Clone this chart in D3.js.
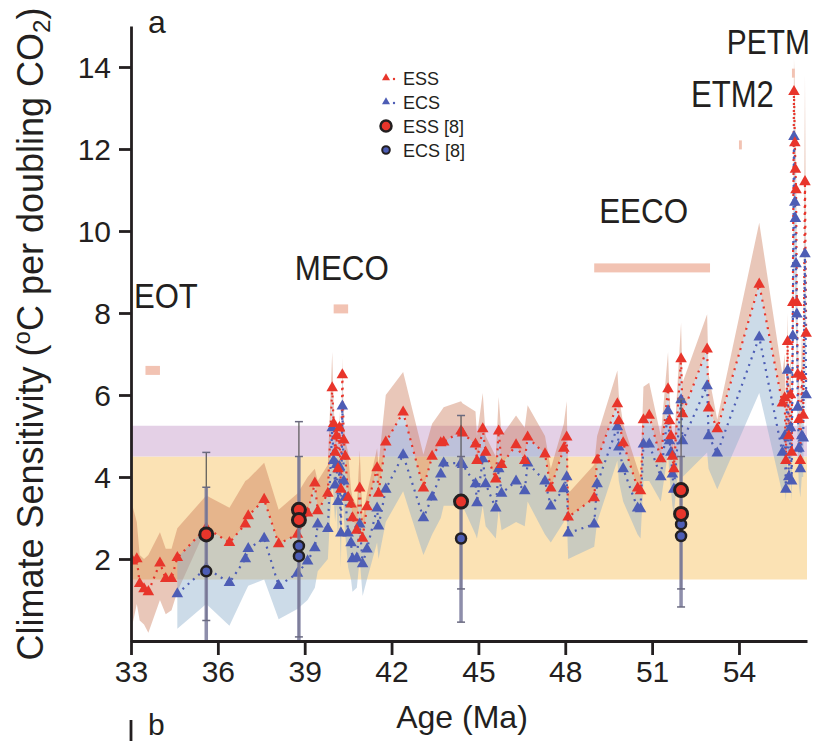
<!DOCTYPE html>
<html>
<head>
<meta charset="utf-8">
<script src="https://cdn.jsdelivr.net/npm/d3@7"></script>
<style>
body { margin: 0; background: #fff; }
text { font-family: "Liberation Sans", Arial, sans-serif; fill: #231f20; }
</style>
</head>
<body>
<script>
// ages (Ma) of each estimate, shared by ESS and ECS
var ages  = [33.05,33.2,33.3,33.45,33.6,34.0,34.2,34.4,34.6,35.6,36.4,36.95,37.05,37.6,38.1,38.75,39.1,39.35,39.45,39.8,
             39.95,40.0,40.05,40.1,40.15,40.2,40.25,40.3,40.35,40.4,40.5,40.6,40.65,40.8,40.9,41.0,41.15,41.5,41.55,41.8,
             42.4,43.1,43.4,43.7,43.8,44.4,44.45,44.9,44.95,45.15,45.25,45.6,45.7,45.8,46.3,46.6,46.7,47.3,47.5,47.95,
             48.05,48.1,49.0,49.1,49.8,49.85,50.0,50.5,50.6,50.7,50.9,51.3,51.55,51.6,51.65,51.7,51.75,52.0,52.05,52.9,
             52.95,53.25,54.7,55.5,55.58,55.62,55.68,55.72,55.78,55.82,55.86,55.9,55.93,55.95,55.97,56.0,56.03,56.07,56.12,56.17,
             56.22,56.28,56.32];
var ess   = [1.95,2.0,1.4,1.27,1.2,1.9,1.52,1.52,2.03,2.76,2.4,2.85,3.05,3.45,2.37,2.6,3.12,3.85,3.17,3.6,
             6.17,5.3,4.6,5.0,4.2,5.2,3.7,6.49,4.9,4.5,3.5,3.34,3.0,2.7,3.73,2.5,3.27,4.22,3.6,4.85,
             5.58,3.73,4.5,4.83,4.85,5.12,5.07,4.8,4.4,5.17,4.6,3.95,5.12,4.3,4.78,4.4,4.97,4.56,3.73,4.7,
             4.97,3.02,3.49,4.41,5.78,5.37,4.83,3.73,3.66,5.39,5.5,4.44,6.15,5.37,5.0,4.5,4.2,6.88,5.54,7.12,
             5.68,5.17,8.7,5.8,5.93,4.4,7.3,5.0,6.0,4.6,8.25,13.4,12.15,11.5,11.0,8.25,6.5,5.4,4.4,6.46,
             5.5,11.2,7.5];
var ecs   = [null,null,null,null,null,null,null,null,1.15,1.78,1.42,2.0,2.25,2.5,1.35,1.65,1.95,2.27,2.85,2.74,
             5.2,4.4,3.8,4.3,3.4,4.25,2.63,5.73,3.9,3.5,2.63,2.39,2.0,2.02,2.85,1.88,2.24,3.24,2.8,3.7,
             4.54,3.0,3.51,4.07,4.34,4.34,4.3,3.83,3.37,4.44,3.83,3.24,4.2,3.6,3.9,3.66,4.34,3.9,3.29,3.71,
             4.0,2.63,2.85,3.83,5.22,4.73,4.2,3.24,3.22,4.8,4.8,4.0,5.61,4.88,4.6,4.07,3.7,5.88,4.88,6.22,
             5.0,4.58,7.41,4.6,5.0,3.7,6.6,4.0,5.2,3.9,7.44,12.3,10.7,10.3,9.2,7.97,5.7,4.7,4.2,5.0,
             4.95,9.44,6.0];
// upper edge of the ESS uncertainty band
var essHi = [3.3,2.9,2.1,2.0,2.1,2.65,2.25,2.25,2.75,3.55,3.25,3.9,3.95,4.35,3.2,3.6,4.0,4.2,3.9,4.3,
             7.05,5.8,5.0,5.4,4.6,5.6,4.1,6.9,5.3,4.9,4.6,3.7,3.5,3.3,4.65,3.0,3.6,4.7,4.3,6.0,
             6.56,4.55,5.3,5.6,5.7,5.85,5.8,5.6,5.0,6.05,5.0,4.5,5.95,5.0,5.5,5.2,5.75,5.0,4.2,5.3,
             5.85,3.6,4.3,5.0,6.6,6.0,5.3,4.2,4.0,6.2,6.3,5.0,7.05,6.0,5.5,5.0,4.7,7.76,6.3,7.97,
             6.5,5.4,10.2,6.5,7.0,5.5,8.0,6.0,7.0,5.5,9.0,14.2,13.5,12.5,12.0,9.5,7.5,6.5,5.5,7.5,
             7.0,13.8,9.0];
// lower edge of the ESS band where no ECS band sits under it
var essLo = [0.4,0.9,0.5,0.4,0.2,1.0,0.65,0.75,1.2];
// lower edge of the ECS uncertainty band
var ecsLo = [null,null,null,null,null,null,null,null,0.3,0.9,0.37,1.2,1.35,1.5,0.53,0.78,1.0,1.3,1.7,2.0,
             4.0,3.5,2.9,3.3,2.5,3.2,1.8,4.5,3.0,2.6,1.8,1.5,1.2,1.3,2.0,1.1,1.5,2.4,2.0,2.9,
             3.65,2.1,2.6,3.0,3.3,3.3,3.3,2.6,2.5,3.3,2.8,2.5,3.2,2.7,2.9,2.8,3.4,2.6,2.4,2.9,
             3.1,2.0,2.3,2.9,4.4,3.9,3.4,2.6,2.5,3.9,3.9,3.4,4.6,4.0,3.7,3.3,3.1,4.9,4.0,4.6,
             4.2,3.7,6.05,3.6,3.8,3.4,4.5,3.6,4.0,3.4,5.5,9.0,8.5,8.0,7.5,6.0,4.5,3.8,3.5,4.0,
             4.0,7.5,5.0];

// reference estimates [8]
var refAge = [35.6, 38.8, 38.8, 44.4, 52.0, 52.0];
var refEss = [2.6, 3.2, 2.95, 3.4, 3.68, 3.1];
var refEcs = [1.7, 2.32, 2.07, 2.5, 2.85, 2.56];
var barAge = [35.6, 38.8, 44.4, 52.0];
var barHi  = [4.6, 5.35, 5.5, 5.9];
var barLo  = [0.5, 0.1, 1.27, 1.27];
var barHi2 = [3.75, 4.5, 4.5, 4.5];
var barLo2 = [-0.5, -0.5, 0.46, 0.83];

// climate events
var evNames = ["EOT", "MECO", "EECO", "ETM2", "PETM"];
var evStart = [33.5, 40.0, 49.0, 54.0, 55.83];
var evEnd   = [34.0, 40.5, 53.0, 54.1, 55.93];
var evLevel = [6.6, 8.1, 9.1, 12.1, 13.85];

var xTicks = [33, 36, 39, 42, 45, 48, 51, 54];
var yTicks = [2, 4, 6, 8, 10, 12, 14];
var orangeRange = [1.5, 4.5];
var purpleRange = [4.5, 5.25];

// label placement (age, value, text width)
var evLabelPos = [[33.1, 8.12, 64], [38.66, 8.8, 94], [49.17, 10.2, 89], [52.34, 13.02, 83], [53.58, 14.32, 83]];

var width = 817, height = 741;
var redC = "#e8352b", blueC = "#4d5db5", ink = "#231f20";

var svg = d3.select("body").append("svg")
  .attr("width", width)
  .attr("height", height);

var x = d3.scaleLinear().domain([33, 56.35]).range([131, 807]);
var y = d3.scaleLinear().domain([0, 15]).range([641, 26]);

svg.append("clipPath").attr("id", "plot")
  .append("rect").attr("x", 131).attr("y", 0).attr("width", 690).attr("height", 641);

var plot = svg.append("g").attr("clip-path", "url(#plot)");

//background ranges
plot.append("rect")
  .attr("x", x(33)).attr("width", x(56.35) - x(33))
  .attr("y", y(orangeRange[1])).attr("height", y(orangeRange[0]) - y(orangeRange[1]))
  .attr("fill", "#fbe2b4");
plot.append("rect")
  .attr("x", x(33)).attr("width", x(56.35) - x(33))
  .attr("y", y(purpleRange[1])).attr("height", y(purpleRange[0]) - y(purpleRange[1]))
  .attr("fill", "#e4d0e6");

var idx = d3.range(ages.length);

//ESS band
var essArea = d3.area()
  .x(function(i) { return x(ages[i]); })
  .y0(function(i) { return y(essLo[i] != null ? essLo[i] : ess[i]); })
  .y1(function(i) { return y(essHi[i]); });
plot.append("path").attr("d", essArea(idx))
  .attr("fill", "#c8724f").attr("fill-opacity", 0.4);

//ECS band, from ESS line down
var ecsArea = d3.area()
  .defined(function(i) { return ecs[i] != null; })
  .x(function(i) { return x(ages[i]); })
  .y0(function(i) { return y(ecsLo[i]); })
  .y1(function(i) { return y(ess[i]); });
plot.append("path").attr("d", ecsArea(idx))
  .attr("fill", "#8fb0cc").attr("fill-opacity", 0.45);

//dotted connecting lines
var essLine = d3.line()
  .x(function(i) { return x(ages[i]); })
  .y(function(i) { return y(ess[i]); });
var ecsLine = d3.line()
  .defined(function(i) { return ecs[i] != null; })
  .x(function(i) { return x(ages[i]); })
  .y(function(i) { return y(ecs[i]); });

plot.append("path").attr("d", essLine(idx))
  .attr("fill", "none").attr("stroke", redC)
  .attr("stroke-width", 2.2).attr("stroke-dasharray", "2,5");
plot.append("path").attr("d", ecsLine(idx))
  .attr("fill", "none").attr("stroke", blueC)
  .attr("stroke-width", 2.2).attr("stroke-dasharray", "2,5");

var tri = d3.symbol().type(d3.symbolTriangle).size(58);

plot.selectAll(".ecsTri")
  .data(idx.filter(function(i) { return ecs[i] != null; }))
  .enter().append("path")
  .attr("class", "ecsTri")
  .attr("d", tri)
  .attr("transform", function(i) { return "translate(" + x(ages[i]) + "," + y(ecs[i]) + ")"; })
  .attr("fill", blueC);

plot.selectAll(".essTri")
  .data(idx)
  .enter().append("path")
  .attr("class", "essTri")
  .attr("d", tri)
  .attr("transform", function(i) { return "translate(" + x(ages[i]) + "," + y(ess[i]) + ")"; })
  .attr("fill", redC);

//error bars for [8]
var bars = plot.selectAll(".bar").data(d3.range(barAge.length)).enter().append("g");
bars.append("line")
  .attr("x1", function(i) { return x(barAge[i]); }).attr("x2", function(i) { return x(barAge[i]); })
  .attr("y1", function(i) { return y(barHi[i]); }).attr("y2", function(i) { return y(barLo[i]); })
  .attr("stroke", "#555").attr("stroke-width", 1.2);
bars.append("line")
  .attr("x1", function(i) { return x(barAge[i]); }).attr("x2", function(i) { return x(barAge[i]); })
  .attr("y1", function(i) { return y(barHi2[i]); }).attr("y2", function(i) { return y(barLo2[i]); })
  .attr("stroke", "#7a7a9c").attr("stroke-opacity", 0.85).attr("stroke-width", 3.5);
[barHi, barLo, barHi2, barLo2].forEach(function(arr) {
  bars.append("line")
    .attr("x1", function(i) { return x(barAge[i]) - 4; }).attr("x2", function(i) { return x(barAge[i]) + 4; })
    .attr("y1", function(i) { return y(arr[i]); }).attr("y2", function(i) { return y(arr[i]); })
    .attr("stroke", "#6a6a80").attr("stroke-width", 1.5);
});

plot.selectAll(".refEcs").data(d3.range(refAge.length)).enter().append("circle")
  .attr("cx", function(i) { return x(refAge[i]); })
  .attr("cy", function(i) { return y(refEcs[i]); })
  .attr("r", 5).attr("fill", blueC).attr("stroke", ink).attr("stroke-width", 2.5);
plot.selectAll(".refEss").data(d3.range(refAge.length)).enter().append("circle")
  .attr("cx", function(i) { return x(refAge[i]); })
  .attr("cy", function(i) { return y(refEss[i]); })
  .attr("r", 6.5).attr("fill", redC).attr("stroke", ink).attr("stroke-width", 3);

//event bars and labels
svg.selectAll(".ev").data(d3.range(evNames.length)).enter().append("rect")
  .attr("x", function(i) { return x(evStart[i]); })
  .attr("width", function(i) { return x(evEnd[i]) - x(evStart[i]); })
  .attr("y", function(i) { return y(evLevel[i]) - 4.5; })
  .attr("height", 9)
  .attr("fill", "#f2c3b3");

//labels are a bit condensed in the original, squeeze them horizontally
svg.selectAll(".evLabel").data(d3.range(evNames.length)).enter().append("text")
  .style("font-size", "36px")
  .text(function(i) { return evNames[i]; })
  .attr("transform", function(i) {
    var natural = this.getComputedTextLength();
    var sx = evLabelPos[i][2] / natural;
    return "translate(" + x(evLabelPos[i][0]) + "," + y(evLabelPos[i][1]) + ") scale(" + sx + ",1)";
  });

//axes
var xAxis = d3.axisBottom(x).tickValues(xTicks).tickSize(14).tickSizeOuter(0).tickPadding(6);
var yAxis = d3.axisLeft(y).tickValues(yTicks).tickSize(12).tickSizeOuter(0).tickPadding(8);

var gx = svg.append("g").attr("transform", "translate(0," + y(0) + ")").call(xAxis);
var gy = svg.append("g").attr("transform", "translate(" + x(33) + ",0)").call(yAxis);

[gx, gy].forEach(function(g) {
  g.selectAll("path, line").attr("stroke", ink).attr("stroke-width", 2.8);
  g.selectAll("text").style("font-size", "30px").attr("fill", ink);
});
gy.selectAll("text").attr("dy", "0.36em");

svg.append("text")
  .attr("x", 462).attr("y", 728)
  .attr("text-anchor", "middle")
  .style("font-size", "32px")
  .text("Age (Ma)");

var yl = svg.append("text")
  .attr("transform", "translate(43,334) rotate(-90)")
  .attr("text-anchor", "middle")
  .style("font-size", "36px");
yl.append("tspan").text("Climate Sensitivity (");
yl.append("tspan").attr("dy", -13).style("font-size", "24px").text("o");
yl.append("tspan").attr("dy", 13).text("C per doubling CO");
yl.append("tspan").attr("dy", 7).style("font-size", "24px").text("2");
yl.append("tspan").attr("dy", -7).text(")");

svg.append("text").attr("x", 148).attr("y", 33).style("font-size", "32px").text("a");
svg.append("text").attr("x", 148).attr("y", 735).style("font-size", "30px").text("b");
svg.append("line").attr("x1", 131).attr("x2", 131).attr("y1", 720).attr("y2", 741)
  .attr("stroke", ink).attr("stroke-width", 2.8);

//legend
var legendNames = ["ESS", "ECS", "ESS [8]", "ECS [8]"];
var legY = [78, 102, 126, 150];
var leg = svg.append("g");
var smallTri = d3.symbol().type(d3.symbolTriangle).size(28);
leg.append("path").attr("d", smallTri).attr("transform", "translate(386," + legY[0] + ")").attr("fill", redC);
leg.append("circle").attr("cx", 394).attr("cy", legY[0] + 1).attr("r", 1.2).attr("fill", redC);
leg.append("path").attr("d", smallTri).attr("transform", "translate(386," + legY[1] + ")").attr("fill", blueC);
leg.append("circle").attr("cx", 394).attr("cy", legY[1] + 1).attr("r", 1.2).attr("fill", blueC);
leg.append("circle").attr("cx", 386).attr("cy", legY[2]).attr("r", 5.5)
  .attr("fill", redC).attr("stroke", ink).attr("stroke-width", 2.5);
leg.append("circle").attr("cx", 386).attr("cy", legY[3]).attr("r", 3.8)
  .attr("fill", blueC).attr("stroke", ink).attr("stroke-width", 2);
leg.selectAll("text").data(legendNames).enter().append("text")
  .attr("x", 403)
  .attr("y", function(d, i) { return legY[i] + 7; })
  .style("font-size", "18px")
  .text(function(d) { return d; });
</script>
</body>
</html>
